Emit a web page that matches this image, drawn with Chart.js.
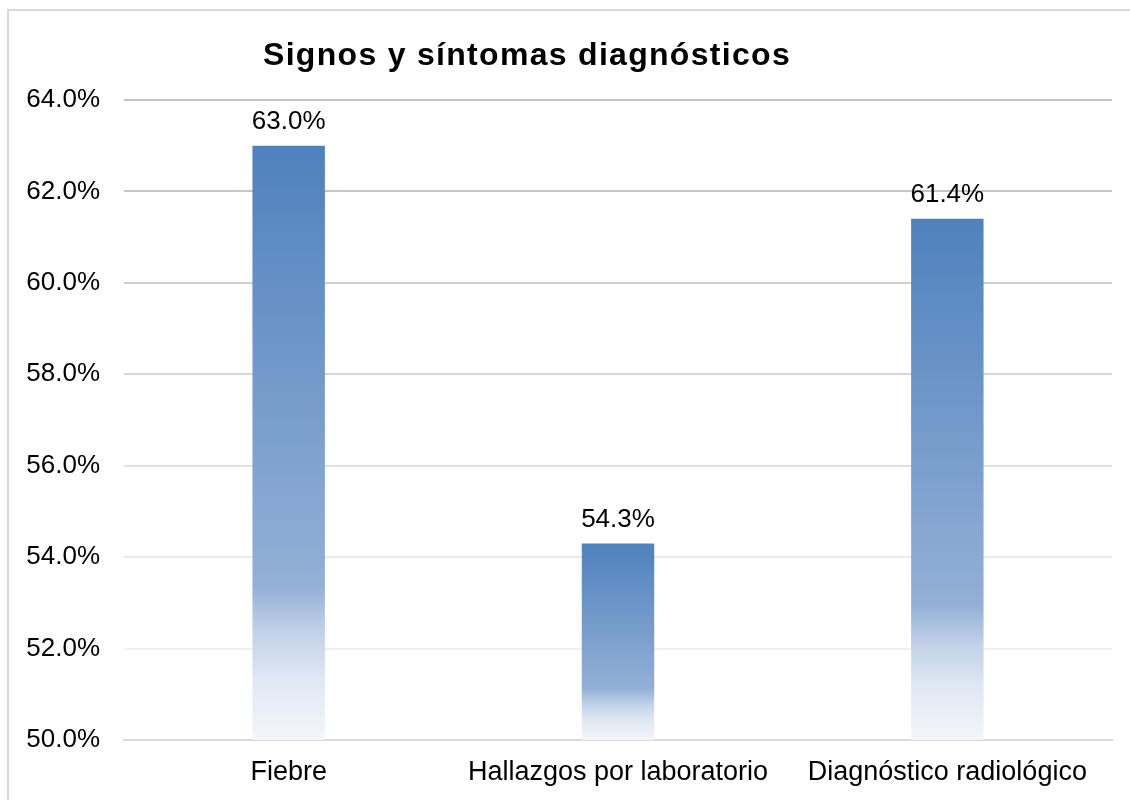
<!DOCTYPE html>
<html>
<head>
<meta charset="utf-8">
<script src="https://cdn.jsdelivr.net/npm/chart.js@4.4.1/dist/chart.umd.min.js"></script>
<style>
    html, body { margin: 0; padding: 0; background: #fff; overflow: hidden; }
    #frame {
        position: absolute; left: 7px; top: 9px; width: 1200px; height: 900px;
        border: 2px solid #d9d9d9; box-sizing: border-box;
    }
    #wrap { position: absolute; left: 0; top: 0; width: 1130px; height: 800px; }
</style>
</head>
<body>
<div id="frame"></div>
<div id="wrap"><canvas id="signos-chart"></canvas></div>
<script>
// Datos del gráfico
const categorias = ['Fiebre', 'Hallazgos por laboratorio', 'Diagnóstico radiológico'];
const porcentajes = [63.0, 54.3, 61.4];
const tituloGrafico = 'Signos y síntomas diagnósticos';
const ejeMin = 50;
const ejeMax = 64;
const ejePaso = 2;

const fuente = '"Liberation Sans", Arial, sans-serif';

// Color de las líneas de cuadrícula (se desvanecen hacia abajo)
const coloresGrid = {64: '#c3c3c3', 62: '#c6c6c6', 60: '#cecece', 58: '#d7d7d7', 56: '#e1e1e1', 54: '#eaeaea', 52: '#f0f0f0', 50: '#d9d9d9'};

function degradadoBarra(context) {
    const chart = context.chart;
    const yScale = chart.scales.y;
    if (!yScale || context.dataIndex === undefined) return '#4f81bd';
    const top = yScale.getPixelForValue(porcentajes[context.dataIndex]);
    const base = yScale.getPixelForValue(ejeMin);
    if (!isFinite(top) || !isFinite(base) || top === base) return '#4f81bd';
    const g = chart.ctx.createLinearGradient(0, top, 0, base);
    g.addColorStop(0, '#4f81bd');
    g.addColorStop(0.74, '#93b0d6');
    g.addColorStop(0.82, '#c3d2e8');
    g.addColorStop(0.9, '#e0e8f3');
    g.addColorStop(1, '#f3f6fa');
    return g;
}

const tituloPlugin = {
    id: 'tituloPlugin',
    afterDraw(chart) {
        const ctx = chart.ctx;
        ctx.save();
        ctx.font = 'bold 32px ' + fuente;
        if ('letterSpacing' in ctx) ctx.letterSpacing = '1.3px';
        ctx.fillStyle = '#000';
        ctx.textAlign = 'center';
        ctx.textBaseline = 'middle';
        ctx.fillText(tituloGrafico, 527, 56);
        ctx.restore();
    }
};

const etiquetasPlugin = {
    id: 'etiquetasPlugin',
    afterDatasetsDraw(chart) {
        const ctx = chart.ctx;
        const meta = chart.getDatasetMeta(0);
        ctx.save();
        ctx.font = '26px ' + fuente;
        ctx.fillStyle = '#000';
        ctx.textAlign = 'center';
        ctx.textBaseline = 'middle';
        meta.data.forEach(function(bar, i) {
            ctx.fillText(porcentajes[i].toFixed(1) + '%', bar.x, bar.y - 24);
        });
        ctx.restore();
    }
};

const ctx = document.getElementById('signos-chart').getContext('2d');
const chart = new Chart(ctx, {
    type: 'bar',
    data: {
        labels: categorias,
        datasets: [{
            label: 'Signos y síntomas',
            data: porcentajes,
            backgroundColor: degradadoBarra,
            borderWidth: 0,
            barPercentage: 0.44,
            categoryPercentage: 0.5
        }]
    },
    options: {
        responsive: true,
        maintainAspectRatio: false,
        animation: false,
        layout: { padding: { top: 100, right: 18, bottom: 0, left: 0 } },
        plugins: {
            legend: { display: false },
            title: { display: false },
            tooltip: { enabled: false }
        },
        scales: {
            x: {
                grid: { display: false, drawTicks: false },
                border: { display: true, color: '#d9d9d9', width: 2 },
                ticks: { color: '#000', font: { family: fuente, size: 27 }, padding: 16, maxRotation: 0 },
                afterFit: function(scale) { scale.height = 60; }
            },
            y: {
                min: ejeMin,
                max: ejeMax,
                grid: {
                    drawTicks: false,
                    lineWidth: 2,
                    color: function(c) { return (c.tick && coloresGrid[c.tick.value]) || '#e0e0e0'; }
                },
                border: { display: false },
                ticks: {
                    stepSize: ejePaso,
                    color: '#000',
                    padding: 24,
                    font: { family: fuente, size: 26 },
                    callback: function(v) { return v.toFixed(1) + '%'; }
                },
                afterFit: function(scale) { scale.width = 124; }
            }
        }
    },
    plugins: [tituloPlugin, etiquetasPlugin]
});
</script>
</body>
</html>
